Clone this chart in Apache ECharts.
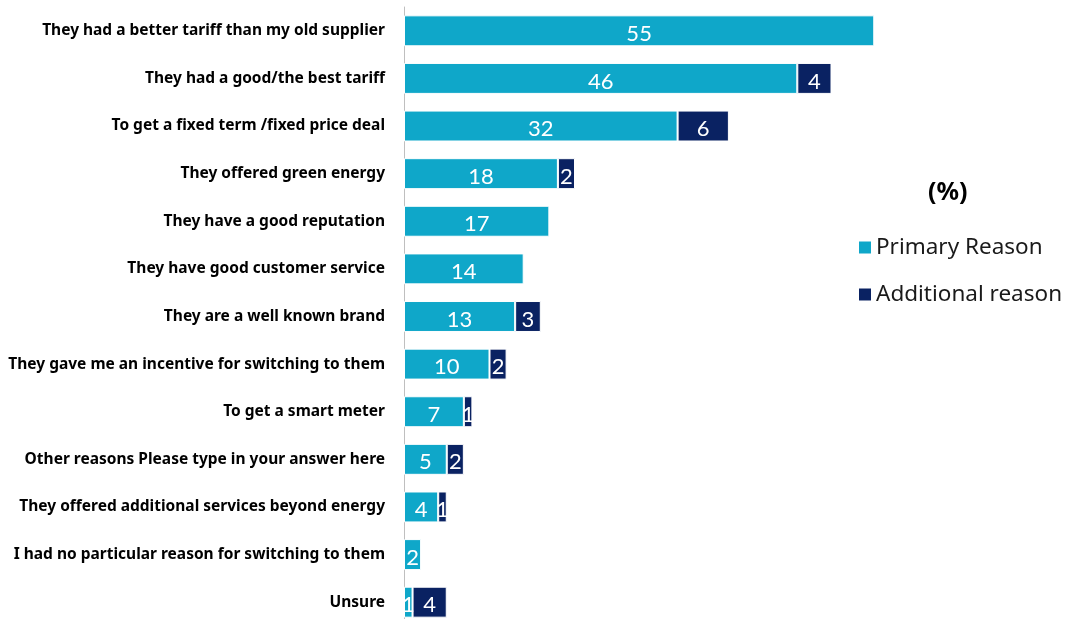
<!DOCTYPE html>
<html>
<head>
<meta charset="utf-8">
<script src="https://cdn.jsdelivr.net/npm/echarts@6/dist/echarts.min.js"></script>
<style>
  html, body { margin: 0; padding: 0; background: #fff; overflow: hidden; }
  /* the plot runs a few pixels past the bottom edge of the window */
  #chart { width: 1069px; height: 626px; }
</style>
</head>
<body>
<div id="chart"></div>
<script>
// Reasons for choosing the new supplier (%)
const categories = [
  'They had a better tariff than my old supplier',
  'They had a good/the best tariff',
  'To get a fixed term /fixed price deal',
  'They offered green energy',
  'They have a good reputation',
  'They have good customer service',
  'They are a well known brand',
  'They gave me an incentive for switching to them',
  'To get a smart meter',
  'Other reasons Please type in your answer here',
  'They offered additional services beyond energy',
  'I had no particular reason for switching to them',
  'Unsure'
];
const primaryReason = [55, 46, 32, 18, 17, 14, 13, 10, 7, 5, 4, 2, 1];
const additionalReason = [null, 4, 6, 2, null, null, 3, 2, 1, 2, 1, null, 4];

const LABEL_FONT = '"Noto Sans", "Open Sans", sans-serif';
const VALUE_FONT = 'Lato, "Noto Sans", sans-serif';
const PRIMARY = '#0FA7C9';
const ADDITIONAL = '#0A2262';

const chart = echarts.init(document.getElementById('chart'), null, { renderer: 'canvas' });

const valueLabel = {
  show: true,
  position: 'inside',
  color: '#fff',
  fontFamily: VALUE_FONT,
  fontSize: 22,
  offset: [0, 3],
  formatter: p => (p.value == null ? '' : String(p.value))
};

chart.setOption({
  animation: false,
  textStyle: { fontFamily: LABEL_FONT },
  title: {
    text: '(%)',
    left: 923,
    top: 175,
    textStyle: { fontFamily: LABEL_FONT, fontSize: 25, fontWeight: 'bold', color: '#000' }
  },
  legend: {
    orient: 'vertical',
    left: 854,
    top: 231,
    itemGap: 24,
    icon: 'rect',
    itemWidth: 12,
    itemHeight: 12,
    itemStyle: { borderWidth: 0 },
    textStyle: { fontFamily: LABEL_FONT, fontSize: 22.5, color: '#1a1a1a', padding: [0, 0, 0, 0] },
    data: ['Primary Reason', 'Additional reason']
  },
  grid: { left: 404, width: 513, top: 7, bottom: 0, containLabel: false },
  xAxis: {
    type: 'value',
    min: 0,
    max: 60,
    show: false
  },
  yAxis: {
    type: 'category',
    inverse: true,
    data: categories,
    axisLine: { show: true, lineStyle: { color: '#BFBFBF', width: 1 } },
    axisTick: { show: false },
    axisLabel: {
      margin: 19,
      color: '#000',
      fontFamily: LABEL_FONT,
      fontWeight: 'bold',
      fontSize: 15.5
    }
  },
  series: [
    {
      name: 'Primary Reason',
      type: 'bar',
      stack: 'total',
      barWidth: '65%',
      data: primaryReason,
      itemStyle: { color: PRIMARY, borderColor: '#fff', borderWidth: 1 },
      label: valueLabel
    },
    {
      name: 'Additional reason',
      type: 'bar',
      stack: 'total',
      barWidth: '65%',
      data: additionalReason,
      itemStyle: { color: ADDITIONAL, borderColor: '#fff', borderWidth: 1 },
      label: valueLabel
    }
  ]
});
</script>
</body>
</html>
